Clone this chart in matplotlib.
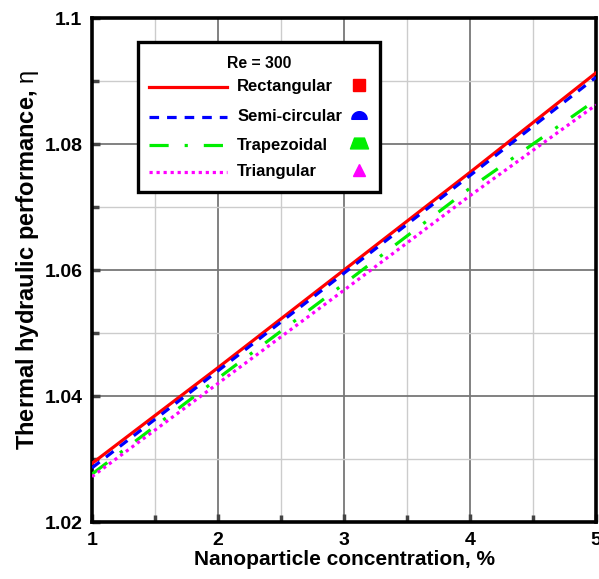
import numpy as np
import matplotlib
matplotlib.use("Agg")
import matplotlib.pyplot as plt
from matplotlib.path import Path
from matplotlib.patches import Rectangle

plt.rcParams['font.family'] = ['Liberation Sans', 'DejaVu Sans']
plt.rcParams['mathtext.fontset'] = 'custom'
plt.rcParams['mathtext.rm'] = 'Liberation Sans'

# data
conc = [1, 2, 3, 4, 5]
rect = [1.0293, 1.0445, 1.0600, 1.0755, 1.0913]
semi = [1.0286, 1.0440, 1.0595, 1.0750, 1.0906]
trap = [1.0276, 1.0428, 1.0578, 1.0730, 1.0870]
tri = [1.0272, 1.0420, 1.0568, 1.0718, 1.0862]

labels = ['Rectangular', 'Semi-circular', 'Trapezoidal', 'Triangular']
colors = ['#ff0000', '#0000ff', '#00ee00', '#ff00ff']
styles = ['-', (0, (3, 2.5)), (0, (6, 5, 1, 5)), (0, (1, 1.2))]

# custom marker shapes
theta = np.linspace(0, np.pi, 30)
half_circle = Path(np.column_stack([np.cos(theta), np.sin(theta) - 0.5]).tolist() + [[1, -0.5]], closed=True)
trapezoid = Path([[-1, -0.6], [1, -0.6], [0.55, 0.6], [-0.55, 0.6], [-1, -0.6]], closed=True)
markers = ['s', half_circle, trapezoid, '^']
msizes = [9, 11, 13, 8]

fig = plt.figure(figsize=(5.99, 5.79), dpi=100)
ax = fig.add_axes([0.1536, 0.0984, 0.8414, 0.8705])

for y, c, ls in zip([rect, semi, trap, tri], colors, styles):
    ax.plot(conc, y, color=c, linestyle=ls, linewidth=2.3, zorder=3)

ax.set_xlim(1, 5)
ax.set_ylim(1.02, 1.1)
ax.set_xticks([1, 2, 3, 4, 5])
ax.set_xticks([1.5, 2.5, 3.5, 4.5], minor=True)
ax.set_yticks([1.02, 1.04, 1.06, 1.08, 1.1])
ax.set_yticklabels(['1.02', '1.04', '1.06', '1.08', '1.1'])
ax.set_yticks([1.03, 1.05, 1.07, 1.09], minor=True)
ax.grid(which='major', color='#777777', linewidth=1.3)
ax.grid(which='minor', color='#cccccc', linewidth=1.0)
ax.tick_params(which='both', direction='in', width=2.5, color='#444444',
               labelsize=14)
ax.tick_params(which='major', length=6, pad=7)
ax.tick_params(which='minor', length=5)
for lab in ax.get_xticklabels() + ax.get_yticklabels():
    lab.set_fontweight('bold')
for sp in ax.spines.values():
    sp.set_linewidth(2.6)

ax.set_xlabel('Nanoparticle concentration, %', fontsize=15, fontweight='bold', labelpad=1)
ax.set_ylabel('Thermal hydraulic performance, $\\mathrm{\\eta}$', fontsize=17,
              fontweight='bold')
ax.yaxis.set_label_coords(-0.102, 0.52)

# legend drawn by hand (markers sit to the right of the labels)
ax.add_patch(Rectangle((0.091, 0.655), 0.48, 0.298, transform=ax.transAxes,
                       facecolor='white', edgecolor='black', linewidth=2.4, zorder=5))
ax.text(0.331, 0.91, 'Re = 300', transform=ax.transAxes, ha='center', va='center',
        fontsize=11.3, fontweight='bold', zorder=6)
rows = [0.864, 0.804, 0.748, 0.695]
for yy, lab, c, ls, m, ms in zip(rows, labels, colors, styles, markers, msizes):
    ax.plot([0.114, 0.268], [yy, yy], transform=ax.transAxes, color=c,
            linestyle=ls, linewidth=2.3, zorder=6, clip_on=False)
    ax.text(0.288, yy, lab, transform=ax.transAxes, ha='left', va='center',
            fontsize=12, fontweight='bold', zorder=6)
    ax.plot([0.53], [yy + 0.004], transform=ax.transAxes, marker=m, markersize=ms,
            color=c, linestyle='none', zorder=6, clip_on=False)

fig.savefig('out.png', dpi=100)
